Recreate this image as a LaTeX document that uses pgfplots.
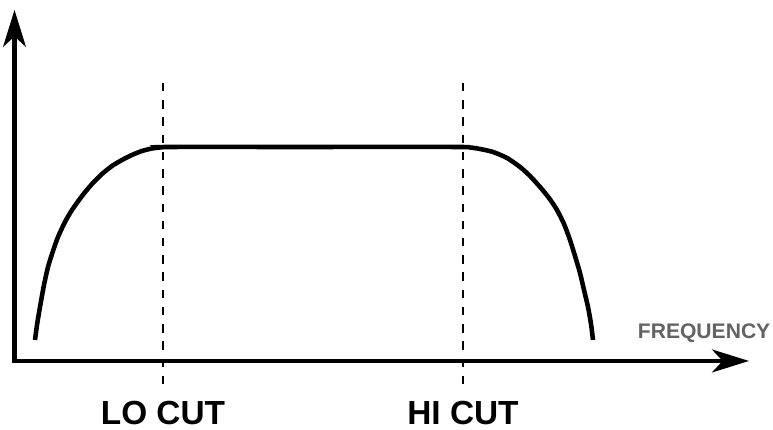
\documentclass[border=0pt]{standalone}
\usepackage{pgfplots}
\pgfplotsset{compat=1.18}
\usetikzlibrary{arrows.meta}
\usepackage{fontspec}
\setmainfont{Liberation Sans}
\definecolor{freqgray}{HTML}{636363}
\begin{document}
\begin{tikzpicture}
\begin{axis}[
  scale only axis, width=7.73cm, height=4.30cm,
  xmin=0, xmax=773, ymin=0, ymax=430,
  axis lines=none, clip=false,
]
% frame for bounding box
\addplot[draw=none] coordinates {(0,0) (773,430)};
% axes with arrows
\addplot[line width=1.2pt, line join=miter,
  {Stealth[length=10.5pt,width=6.5pt,inset=3pt]}-{Stealth[length=10.5pt,width=6.5pt,inset=3pt]}]
  coordinates {(14.5,420) (14.5,69) (749,69)};
% cut lines
\addplot[line width=0.6pt, dash pattern=on 2.4pt off 2.5pt] coordinates {(163,347) (163,42)};
\addplot[line width=0.6pt, dash pattern=on 2.4pt off 2.5pt] coordinates {(463,347) (463,42)};
% response curve
\addplot[line width=1.3pt, smooth, tension=0.4] coordinates {
(35,90) (37,105) (40,123) (44,145) (48,163) (53,179) (58,193) (65,208) (72,220) (82,234)
(92,246) (102,256) (112,264) (122,270) (132,275) (142,279) (152,281.5) (162,282.7) (172,283)
(300,283) (455,283) (470,282.5) (480,281) (493,278) (507,272) (520,263) (530,254) (540,243)
(549,232) (557,220) (564,206) (570,190) (575,174) (580,157) (584,140) (588,123) (591,106) (593,90)};
\node[font=\fontsize{9.5}{11}\selectfont\bfseries, inner sep=0] at (axis cs:163,17) {LO CUT};
\node[font=\fontsize{9.5}{11}\selectfont\bfseries, inner sep=0] at (axis cs:463,17) {HI CUT};
\node[font=\fontsize{6}{7}\selectfont\bfseries, text=freqgray, anchor=east, inner sep=0] at (axis cs:771,97) {FREQUENCY};
\end{axis}
\end{tikzpicture}
\end{document}
